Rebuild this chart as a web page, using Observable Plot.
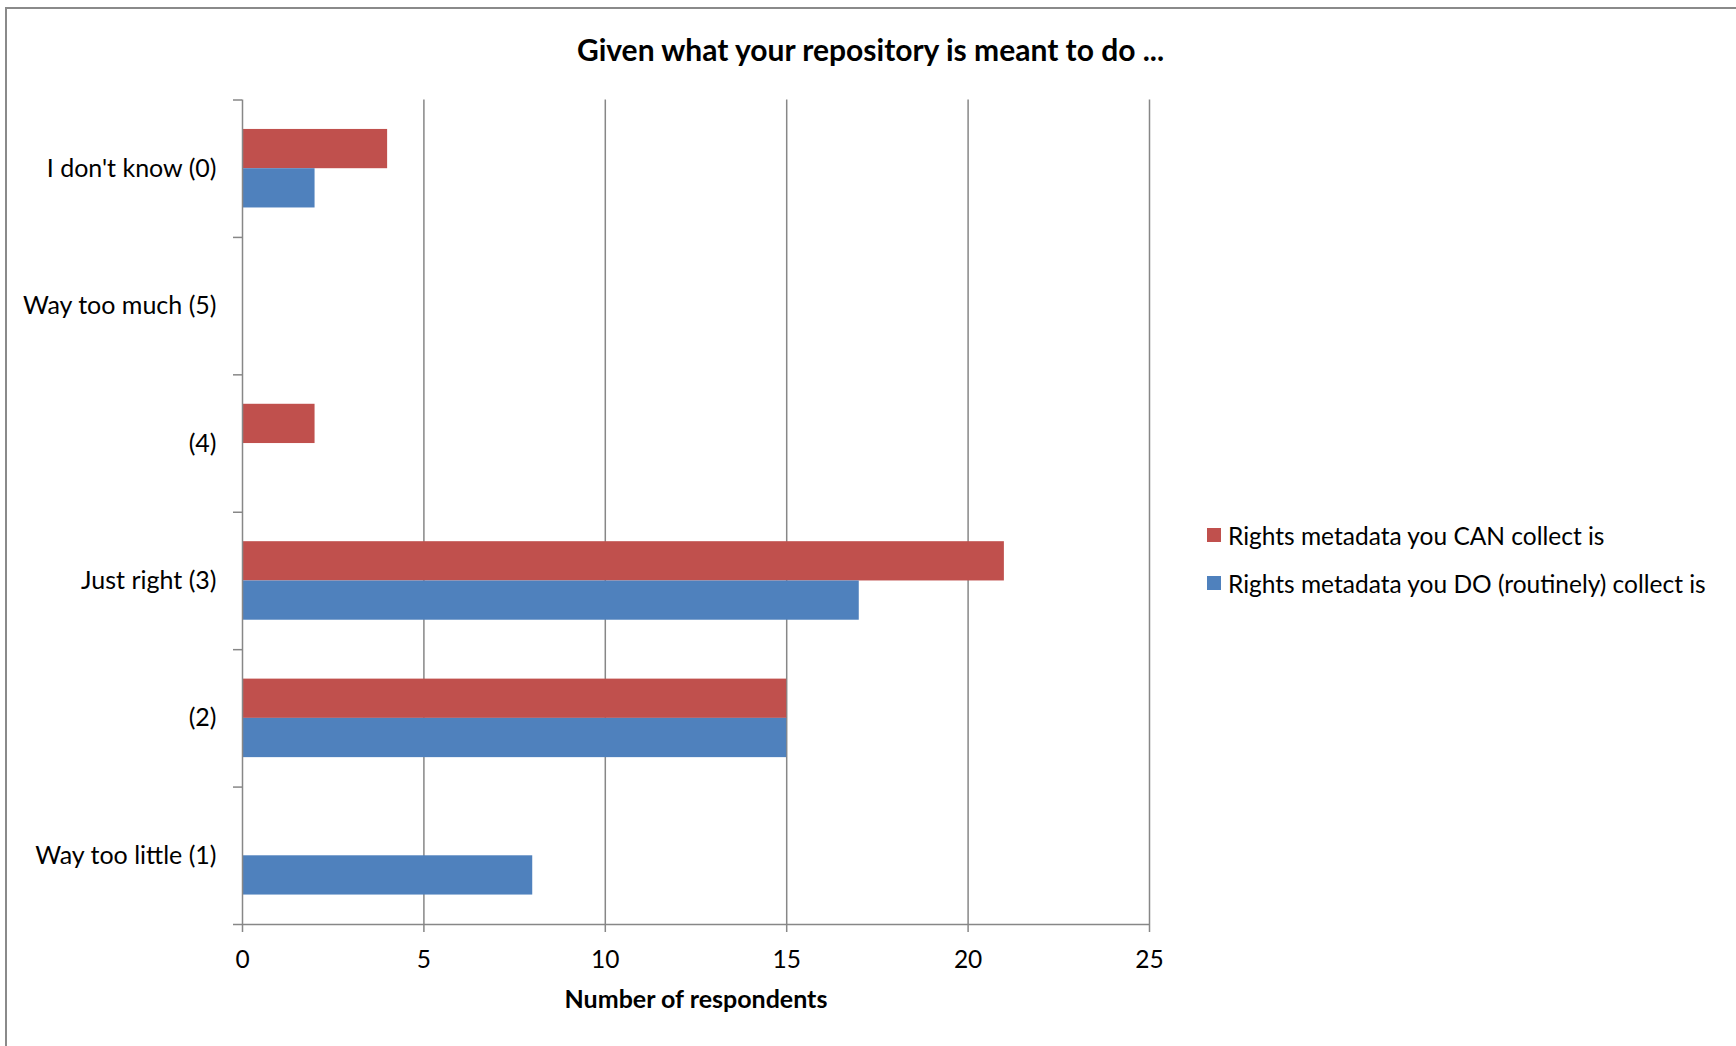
<!DOCTYPE html>
<html>
<head>
<meta charset="utf-8">
<script src="https://cdn.jsdelivr.net/npm/d3@7"></script>
<script src="https://cdn.jsdelivr.net/npm/@observablehq/plot@0.6"></script>
<style>
  html, body { margin: 0; padding: 0; background: #fff; }
  #chart { position: relative; width: 1736px; height: 1046px; overflow: hidden; font-family: Lato, "Open Sans", sans-serif; color: #000; }
  #frame { position: absolute; left: 5px; top: 7px; right: -10px; bottom: -10px; border-left: 2px solid #8a8a8a; border-top: 2px solid #8a8a8a; pointer-events: none; }
  #title { position: absolute; left: 0; width: 1741px; top: 32px; line-height: 34px; text-align: center; font-weight: bold; font-size: 30px; }
  #legend { position: absolute; left: 1207px; top: 520px; font-size: 24.5px; }
  .item { display: flex; align-items: center; height: 30px; margin-bottom: 18px; white-space: nowrap; }
  .swatch { width: 14px; height: 14px; margin-right: 7px; flex: none; }
  #plot { position: absolute; left: 0; top: 0; }
</style>
</head>
<body>
<div id="chart">
  <div id="plot"></div>
  <div id="title"></div>
  <div id="legend"></div>
  <div id="frame"></div>
</div>
<script>
// Survey answers, listed top to bottom as they appear on the category axis
const categories = ["I don't know (0)", "Way too much (5)", "(4)", "Just right (3)", "(2)", "Way too little (1)"];
const seriesNames = ["Rights metadata you CAN collect is", "Rights metadata you DO (routinely) collect is"];
const canCollect = [4, 0, 2, 21, 15, 0];
const doCollect = [2, 0, 0, 17, 15, 8];
const seriesColors = ["#C0504D", "#4F81BD"];
const xTicks = [0, 5, 10, 15, 20, 25];
const titleText = "Given what your repository is meant to do ...";
const xLabel = "Number of respondents";

// Two bars side by side plus a 150% gap fill each category band
const barShare = 1 / 3.5;
const rows = [];
categories.forEach((category, i) => {
  rows.push({category, series: seriesNames[0], value: canCollect[i], y1: i + 0.5 - barShare, y2: i + 0.5});
  rows.push({category, series: seriesNames[1], value: doCollect[i], y1: i + 0.5, y2: i + 0.5 + barShare});
});

const gray = "#878787";

const chart = Plot.plot({
  width: 1736,
  height: 1046,
  marginLeft: 242,
  marginRight: 587,
  marginTop: 99.5,
  marginBottom: 122,
  style: {fontFamily: "Lato, 'Open Sans', sans-serif", fontSize: "24px", color: "#000", background: "transparent"},
  x: {domain: [0, 25], label: null},
  y: {domain: [categories.length, 0], label: null},
  color: {domain: seriesNames, range: seriesColors},
  marks: [
    Plot.gridX(xTicks.filter(d => d > 0), {stroke: gray, strokeOpacity: 1, strokeWidth: 1.5}),
    Plot.rectX(rows.filter(d => d.value > 0), {x1: 0, x2: "value", y1: "y1", y2: "y2", fill: "series"}),
    Plot.ruleX([0], {stroke: gray, strokeWidth: 1.5}),
    Plot.ruleY([categories.length], {stroke: gray, strokeWidth: 1.5}),
    // category boundaries carry the y ticks, labels sit at band centres
    Plot.axisY(d3.range(categories.length + 1), {tickSize: 9, tickFormat: () => "", stroke: gray, strokeWidth: 1.5, label: null}),
    Plot.axisY(categories.map((c, i) => i + 0.5), {tickSize: 0, tickPadding: 26, tickFormat: d => categories[d - 0.5], fill: "#000", fontSize: 25, label: null}),
    Plot.axisX(xTicks, {tickSize: 8, tickPadding: 18, stroke: gray, strokeWidth: 1.5, fill: "#000", fontSize: 24.5, label: null}),
    Plot.text([xLabel], {frameAnchor: "bottom", dy: 83, fontWeight: "bold", fontSize: 25, fill: "#000"})
  ]
});
document.getElementById("plot").appendChild(chart);

document.getElementById("title").textContent = titleText;

const legend = document.getElementById("legend");
seriesNames.forEach((name, i) => {
  const item = document.createElement("div");
  item.className = "item";
  const sw = document.createElement("span");
  sw.className = "swatch";
  sw.style.background = seriesColors[i];
  const label = document.createElement("span");
  label.textContent = name;
  item.appendChild(sw);
  item.appendChild(label);
  legend.appendChild(item);
});
</script>
</body>
</html>
